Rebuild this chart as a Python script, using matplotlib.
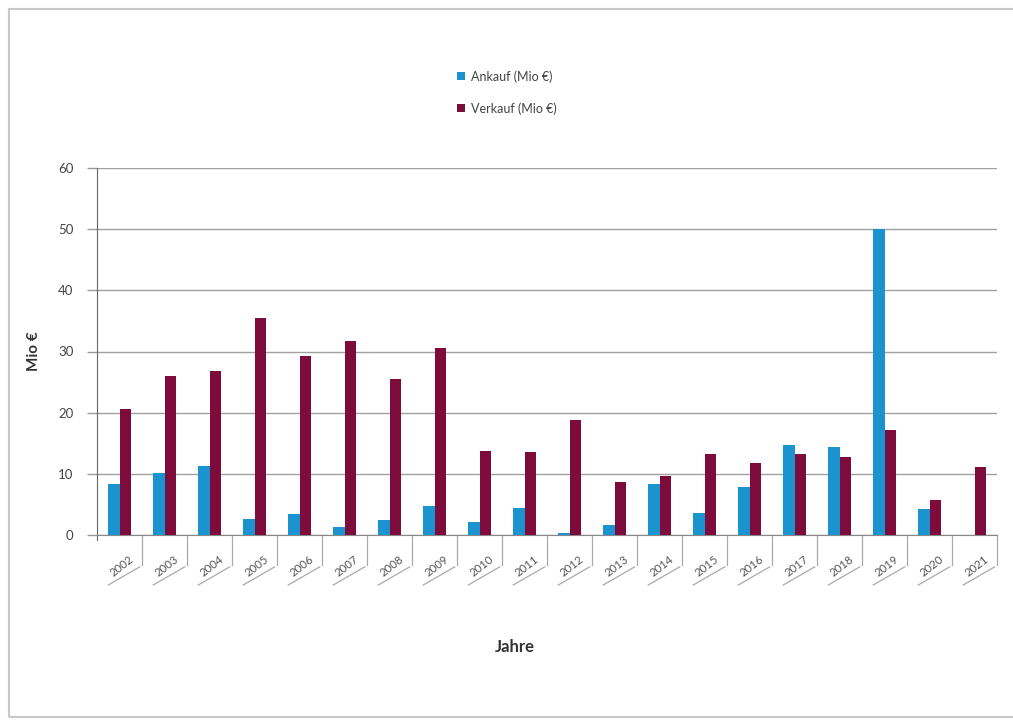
import matplotlib
matplotlib.use("Agg")
import matplotlib.pyplot as plt
from matplotlib.patches import Rectangle
import numpy as np

years = ["2002", "2003", "2004", "2005", "2006", "2007", "2008", "2009", "2010", "2011",
         "2012", "2013", "2014", "2015", "2016", "2017", "2018", "2019", "2020", "2021"]
ankauf = [8.3, 10.1, 11.3, 2.6, 3.4, 1.3, 2.4, 4.7, 2.2, 4.4,
          0.4, 1.7, 8.3, 3.6, 7.9, 14.7, 14.4, 50.0, 4.2, 0.0]
verkauf = [20.6, 26.0, 26.8, 35.5, 29.2, 31.7, 25.5, 30.6, 13.7, 13.5,
           18.8, 8.6, 9.6, 13.2, 11.7, 13.2, 12.7, 17.2, 5.7, 11.1]
yticks = [0, 10, 20, 30, 40, 50, 60]

plt.rcParams['font.family'] = ['Lato', 'DejaVu Sans']

W, H = 1013, 722
fig = plt.figure(figsize=(W / 100, H / 100), dpi=100)
fig.patch.set_facecolor("white")
fig.patches.append(Rectangle((9 / W, 5 / H), (W - 9) / W + 0.01, (H - 14) / H, transform=fig.transFigure,
                             fill=False, edgecolor="#c8c8c8", linewidth=1.5))

ax = fig.add_axes([97 / W, (H - 535) / H, 900 / W, 367 / H])
x = np.arange(len(years))
bw = 0.265
c_an = "#1a93cf"
c_vk = "#7d0b3c"
ax.bar(x - bw / 2, ankauf, width=bw, color=c_an, label="Ankauf (Mio €)", zorder=3)
ax.bar(x + bw / 2, verkauf, width=bw, color=c_vk, label="Verkauf (Mio €)", zorder=3)

ax.set_xlim(-0.5, len(years) - 0.5)
ax.set_ylim(0, 60)
ax.set_yticks(yticks)
ax.set_yticklabels([str(v) for v in yticks], fontsize=9.5, color="#444444")
ax.tick_params(axis="y", direction="out", length=7, width=1, color="#999999", pad=10)
ax.yaxis.grid(True, color="#a0a0a0", linewidth=1, zorder=0)
ax.set_xticks([])
for s in ["top", "right"]:
    ax.spines[s].set_visible(False)
ax.spines["left"].set_color("#666666")
ax.spines["bottom"].set_color("#888888")
ax.spines["left"].set_bounds(-0.8, 60)

# category label boxes
tr = ax.get_xaxis_transform()
v_len = 30 / 367
s_dy = 50 / 367
for i, yr in enumerate(years):
    b = i + 0.5
    ax.plot([b, b], [0, -v_len], transform=tr, color="#aaaaaa", lw=0.9, clip_on=False)
    ax.plot([b - 0.05, b - 0.75], [-v_len - 0.005, -s_dy], transform=tr, color="#aaaaaa", lw=0.9,
            clip_on=False)
    ax.text(i + 0.05, -31 / 367, yr, transform=tr, rotation=38, ha="center", va="center",
            rotation_mode="anchor", fontsize=8.2, color="#555555")

ax.set_ylabel("Mio €", fontsize=11, fontweight="bold", color="#333333", labelpad=12)
fig.text(515 / W, 1 - 647 / H, "Jahre", ha="center", va="center", fontsize=12,
         fontweight="bold", color="#333333")

leg = fig.legend(loc="upper left", bbox_to_anchor=(446 / W, 1 - 59 / H), frameon=False,
                 fontsize=9, handlelength=0.6, handleheight=0.6, labelspacing=1.55,
                 handletextpad=0.5, labelcolor="#444444")

fig.savefig("out.png", dpi=100)
